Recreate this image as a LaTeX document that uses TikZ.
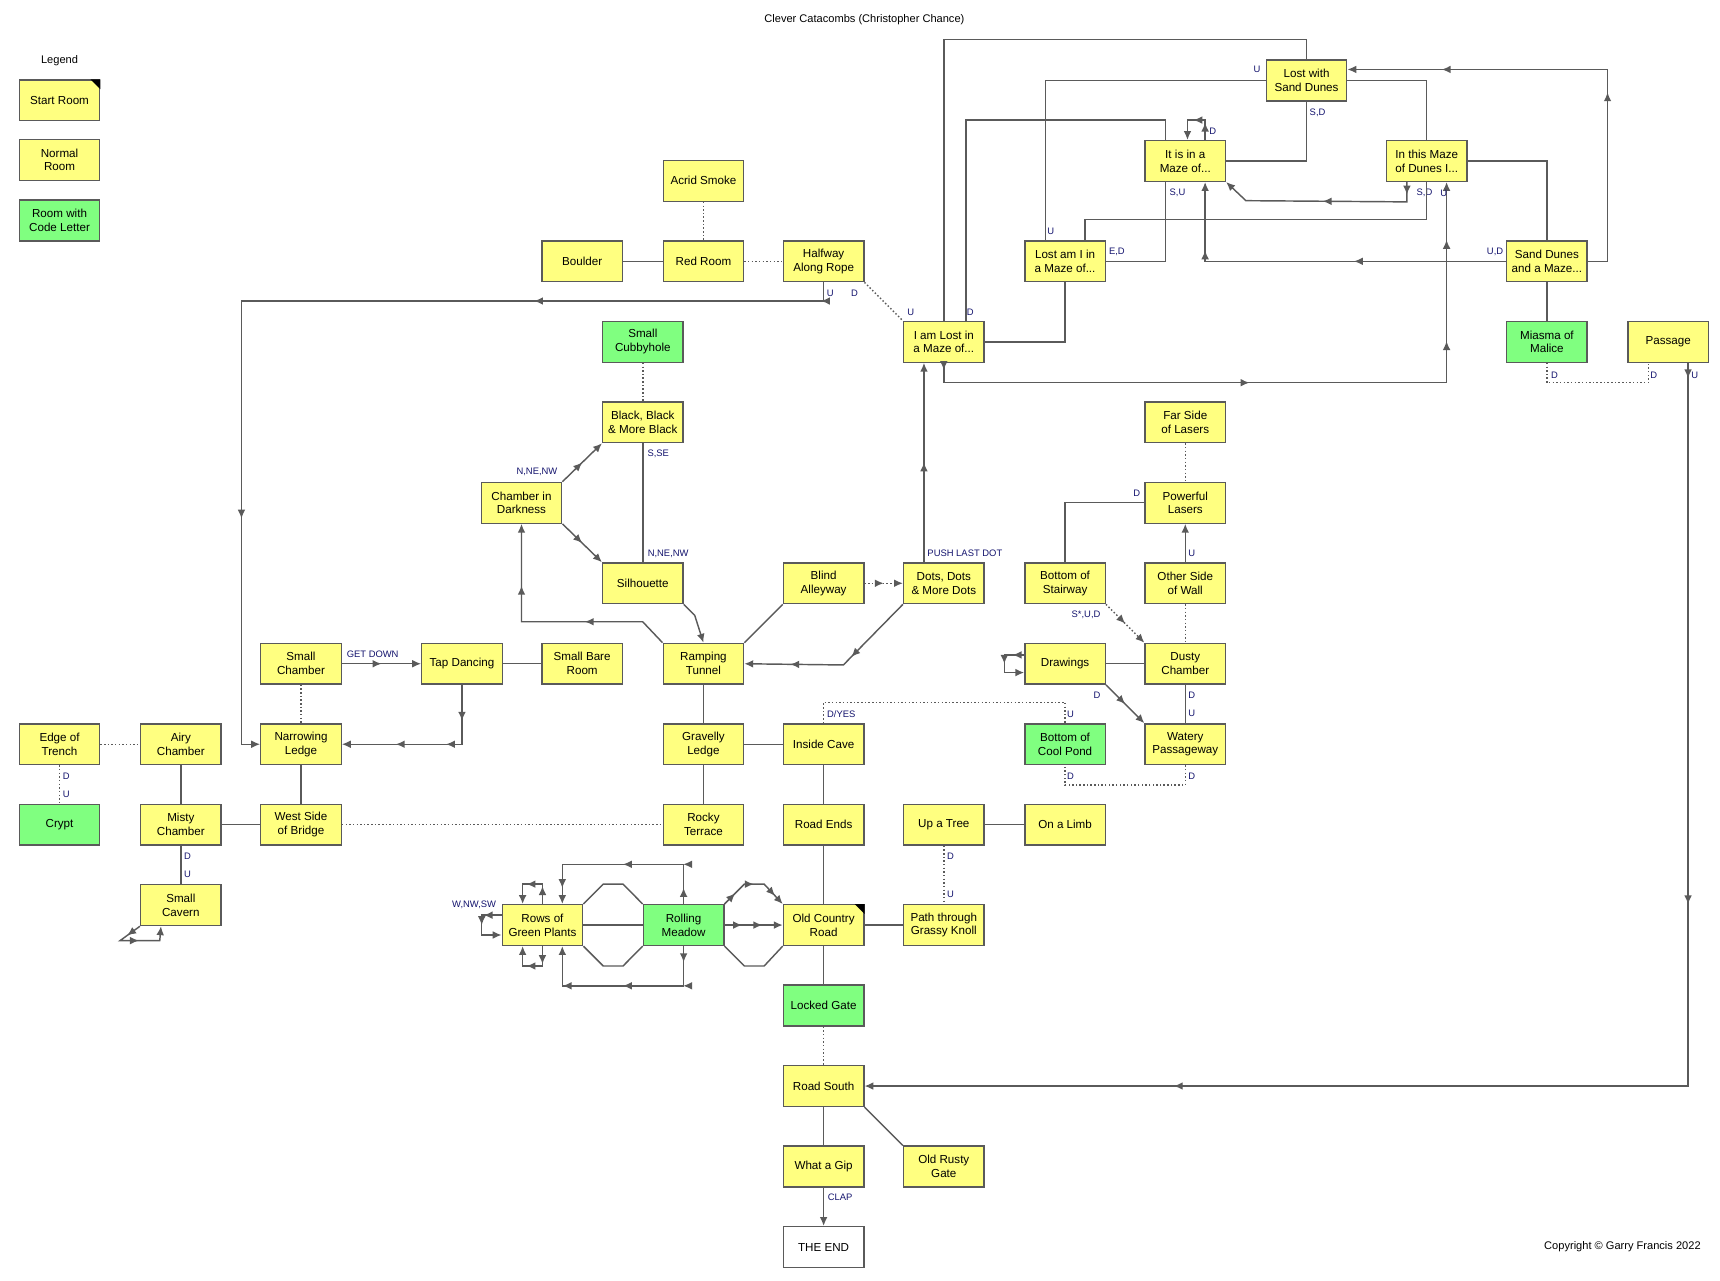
\documentclass[tikz,border=0pt]{standalone}
\usepackage{fontspec}
\setmainfont{Liberation Sans}
\usetikzlibrary{arrows.meta,calc,decorations.markings}
\definecolor{roomyellow}{RGB}{255,255,128}
\definecolor{roomgreen}{RGB}{128,255,128}
\definecolor{linegray}{RGB}{90,90,90}
\definecolor{labblue}{RGB}{20,20,110}
\tikzset{
  room/.style={draw=linegray,line width=1.2pt,fill=roomyellow,minimum width=2.555cm,minimum height=1.295cm,
    align=center,inner sep=1pt,font=\fontsize{10.5}{12.5}\selectfont},
  coderoom/.style={room,fill=roomgreen},
  link/.style={draw=linegray,line width=1.3pt},
  dlink/.style={link,dotted},
  tip/.style={-{Latex[length=8pt,width=7pt]}},
  arr at/.style={postaction={decorate,decoration={markings,mark=at position #1 with {\arrow{Latex[length=8pt,width=7pt]}}}}},
  lab/.style={font=\fontsize{8.5}{10}\selectfont,text=labblue,inner sep=1pt},
}
\newcommand{\startmark}[1]{\fill (#1.north east) -- ++(-9,0) -- ++(9,9) -- cycle;}
\begin{document}
\begin{tikzpicture}[x=0.035cm,y=-0.035cm]
\useasboundingbox (0,0) rectangle (1560,1161);
\node[font=\fontsize{10}{12}\selectfont] at (784,18) {Clever Catacombs (Christopher Chance)};
\node[font=\fontsize{10}{12}\selectfont,anchor=east] at (1546,1131) {Copyright \textcopyright\ Garry Francis 2022};
% legend
\node[font=\fontsize{10}{12}\selectfont] at (54,55) {Legend};
\node[room] (lgstart) at (54,91) {Start Room};
\startmark{lgstart}
\node[room] (lgnormal) at (54,145) {Normal\\Room};
\node[coderoom] (lgcode) at (54,200) {Room with\\Code Letter};
% rooms
\node[room] (acrid) at (638,164) {Acrid Smoke};
\node[room] (boulder) at (528,237) {Boulder};
\node[room] (red) at (638,237) {Red Room};
\node[room] (halfway) at (747,237) {Halfway\\Along Rope};
\node[coderoom] (cubby) at (583,310) {Small\\Cubbyhole};
\node[room] (lost1) at (856,310) {I am Lost in\\a Maze of...};
\node[room] (sand1) at (1185,73) {Lost with\\Sand Dunes};
\node[room] (itis) at (1075,146) {It is in a\\Maze of...};
\node[room] (inthis) at (1294,146) {In this Maze\\of Dunes I...};
\node[room] (lostam) at (966,237) {Lost am I in\\a Maze of...};
\node[room] (sandd) at (1403,237) {Sand Dunes\\and a Maze...};
\node[coderoom] (miasma) at (1403,310) {Miasma of\\Malice};
\node[room] (passage) at (1513,310) {Passage};
\node[room] (farside) at (1075,383) {Far Side\\of Lasers};
\node[room] (black) at (583,383) {Black, Black\\\& More Black};
\node[room] (chamber) at (473,456) {Chamber in\\Darkness};
\node[room] (powerful) at (1075,456) {Powerful\\Lasers};
\node[room] (silh) at (583,529) {Silhouette};
\node[room] (blind) at (747,529) {Blind\\Alleyway};
\node[room] (dots) at (856,529) {Dots, Dots\\\& More Dots};
\node[room] (stair) at (966,529) {Bottom of\\Stairway};
\node[room] (other) at (1075,529) {Other Side\\of Wall};
\node[room] (smallch) at (273,602) {Small\\Chamber};
\node[room] (tap) at (419,602) {Tap Dancing};
\node[room] (bare) at (528,602) {Small Bare\\Room};
\node[room] (ramp) at (638,602) {Ramping\\Tunnel};
\node[room] (drawings) at (966,602) {Drawings};
\node[room] (dusty) at (1075,602) {Dusty\\Chamber};
\node[room] (edge) at (54,675) {Edge of\\Trench};
\node[room] (airy) at (164,675) {Airy\\Chamber};
\node[room] (narrow) at (273,675) {Narrowing\\Ledge};
\node[room] (gravel) at (638,675) {Gravelly\\Ledge};
\node[room] (inside) at (747,675) {Inside Cave};
\node[coderoom] (pond) at (966,675) {Bottom of\\Cool Pond};
\node[room] (watery) at (1075,675) {Watery\\Passageway};
\node[coderoom] (crypt) at (54,748) {Crypt};
\node[room] (misty) at (164,748) {Misty\\Chamber};
\node[room] (west) at (273,748) {West Side\\of Bridge};
\node[room] (rocky) at (638,748) {Rocky\\Terrace};
\node[room] (roadends) at (747,748) {Road Ends};
\node[room] (tree) at (856,748) {Up a Tree};
\node[room] (limb) at (966,748) {On a Limb};
\node[room] (cavern) at (164,821) {Small\\Cavern};
\node[room] (rows) at (492,839) {Rows of\\Green Plants};
\node[coderoom] (meadow) at (620,839) {Rolling\\Meadow};
\node[room] (oldroad) at (747,839) {Old Country\\Road};
\startmark{oldroad}
\node[room] (path) at (856,839) {Path through\\Grassy Knoll};
\node[coderoom] (locked) at (747,912) {Locked Gate};
\node[room] (south) at (747,985) {Road South};
\node[room] (gip) at (747,1058) {What a Gip};
\node[room] (rusty) at (856,1058) {Old Rusty\\Gate};
\node[room,fill=white] (theend) at (747,1131) {THE END};

% upper left
\draw[dlink] (acrid) -- (red);
\draw[link] (boulder) -- (red);
\draw[dlink] (red) -- (halfway);
\draw[dlink] (halfway.south east) -- (lost1.north west);
\draw[link,arr at=0.02,arr at=0.29,arr at=0.77,tip] (halfway.south) |- (219,273) |- (narrow.west);
\node[lab] at (753,266) {U};
\node[lab] at (775,266) {D};
\draw[dlink] (cubby) -- (black);
\draw[link,arr at=0.5,tip] (chamber.north east) -- (black.south west);
\node[lab] at (487,428) {N,NE,NW};
\draw[link,arr at=0.5,tip] (chamber.south east) -- (silh.north west);
\draw[link] (black) -- (silh);
\node[lab] at (597,412) {S,SE};
\node[lab] at (606,502) {N,NE,NW};
\draw[link,tip] (silh.south east) -- ($(silh.south east)+(10,10)$) -- (ramp.north);
\draw[link,arr at=0.35,arr at=0.75,tip] (ramp.north west) -- ($(ramp.north west)+(-18,-19)$) -| (chamber.south);
\draw[link] (blind.south west) -- (ramp.north east);
\draw[dlink,arr at=0.5,tip] (blind) -- (dots);
\draw[link,arr at=0.4,arr at=0.75,tip] (dots.south west) -- ($(dots.south west)+(-54,55)$) -- (ramp.east);
\draw[link,arr at=0.5,tip] ($(dots.north)+(-18,0)$) -- ($(lost1.south)+(-18,0)$);
\node[lab,anchor=west] at (840,502) {PUSH LAST DOT};
% maze
\draw[link] (lost1.north) -- (856,36) -| (sand1.north);
\node[lab] at (826,283) {U};
\draw[link] ($(lost1.north)+(20,0)$) |- (960,109) -| ($(itis.north)+(-18,0)$);
\node[lab] at (880,283) {D};
\draw[link] (lost1.east) -| (lostam.south);
\draw[link,arr at=0.01,arr at=0.45,arr at=0.78,arr at=0.92,tip] (lost1.south) -- ++(0,18) -| ($(inthis.south)+(18,0)$);
\draw[link] (sand1.west) -| ($(lostam.north)+(-18,0)$);
\node[lab] at (1140,63) {U};
\node[lab] at (953,210) {U};
\draw[link] (sand1.south) |- (itis.east);
\node[lab] at (1195,102) {S,D};
\draw[link,arr at=0.3,arr at=0.55,tip] ($(itis.north)+(18,0)$) -- ++(0,-18) -| ($(itis.north)+(2,0)$);
\node[lab] at (1100,119) {D};
\draw[link,arr at=0.06,arr at=0.5,tip] ($(inthis.south)+(-18,0)$) -- ++(0,18) -- (1130,182) -- (itis.south east);
\node[lab] at (1292,175) {S,D};
\node[lab] at (1301,175) {\hspace{2em}U};
\draw[link] (lostam.east) -| ($(itis.south)+(-18,0)$);
\node[lab] at (1013,228) {E,D};
\node[lab] at (1068,175) {S,U};
\draw[link] ($(lostam.north)+(18,0)$) -- ++(0,-19) -| (inthis.south);
\draw[link,arr at=0.4,arr at=0.82,tip] (sandd.west) -| ($(itis.south)+(18,0)$);
\node[lab] at (1356,228) {U,D};
\draw[link] (inthis.east) -| (sandd.north);
\draw[link] (sand1.east) -| (inthis.north);
\draw[link,arr at=0.4,arr at=0.8,tip] (sandd.east) -- (1458,237) |- ($(sand1.east)+(0,-10)$);
\draw[link] (sandd) -- (miasma);
\draw[dlink] (miasma.south) -- ++(0,18) -| ($(passage.south)+(-18,0)$);
\node[lab] at (1410,340) {D};
\node[lab] at (1500,340) {D};
\draw[link,arr at=0.01,arr at=0.35,arr at=0.8,tip] ($(passage.south)+(18,0)$) |- (south.east);
\node[lab] at (1537,340) {U};
% lasers area
\draw[dlink] (farside) -- (powerful);
\draw[link,tip] (other.north) -- (powerful.south);
\node[lab] at (1081,502) {U};
\draw[link] (powerful.west) -| (stair.north);
\node[lab] at (1031,447) {D};
\draw[dlink] (other) -- (dusty);
\draw[dlink,arr at=0.5,tip] (stair.south east) -- (dusty.north west);
\node[lab] at (985,558) {S*,U,D};
\draw[link] (drawings) -- (dusty);
\draw[link,arr at=0.2,arr at=0.5,tip] ($(drawings.west)+(0,-8)$) -- ++(-18,0) -- ++(0,8) -- ++(0,8) -- ++(18,0);
\draw[link,arr at=0.5,tip] (drawings.south east) -- (watery.north west);
\node[lab] at (995,631) {D};
\draw[link] (dusty) -- (watery);
\node[lab] at (1081,631) {D};
\node[lab] at (1081,647) {U};
\draw[dlink] (watery.south) -- ++(0,18) -| (pond.south);
\node[lab] at (971,704) {D};
\node[lab] at (1081,704) {D};
\draw[dlink] (inside.north) -- ++(0,-19) -| (pond.north);
\node[lab] at (763,648) {D/YES};
\node[lab] at (971,648) {U};
% west side
\draw[link,arr at=0.5,tip] (smallch) -- (tap);
\node[lab] at (338,593) {GET DOWN};
\draw[dlink] (smallch) -- (narrow);
\draw[link,arr at=0.2,arr at=0.42,arr at=0.7,tip] (tap.south) |- (narrow.east);
\draw[link] (tap) -- (bare);
\draw[link] (ramp) -- (gravel);
\draw[link] (gravel) -- (inside);
\draw[link] (gravel) -- (rocky);
\draw[dlink] (edge) -- (airy);
\draw[dlink] (edge) -- (crypt);
\node[lab] at (60,704) {D};
\node[lab] at (60,720) {U};
\draw[link] (airy) -- (misty);
\draw[link] (narrow) -- (west);
\draw[link] (misty) -- (west);
\draw[dlink] (west) -- (rocky);
\draw[link] (misty) -- (cavern);
\node[lab] at (170,777) {D};
\node[lab] at (170,793) {U};
\draw[link,arr at=0.2,arr at=0.55,tip] (cavern.south west) -- ++(-18,13) -- ++(36,0) -- ($(cavern.south)+(-18,0)$);
% south part
\draw[link] (inside) -- (roadends);
\draw[link] (roadends) -- (oldroad);
\draw[link] (tree) -- (limb);
\draw[dlink] (tree) -- (path);
\node[lab] at (862,777) {D};
\node[lab] at (862,811) {U};
\draw[link] (oldroad) -- (path);
\draw[link] (oldroad) -- (locked);
\draw[dlink] (locked) -- (south);
\draw[link] (south) -- (gip);
\draw[link] (south.south east) -- (rusty.north west);
\draw[link,tip] (gip) -- (theend);
\node[lab] at (762,1086) {CLAP};
% meadow
\draw[link] (rows) -- (meadow);
\draw[link] (rows.north east) -- ++(18,-18) -- ++(18,0) -- (meadow.north west);
\draw[link] (rows.south east) -- ++(18,18) -- ++(18,0) -- (meadow.south west);
\draw[link,arr at=0.2,arr at=0.5,arr at=0.85,tip] (meadow.north east) -- ++(18,-18) -- ++(18,0) -- (oldroad.north west);
\draw[link] (meadow.south east) -- ++(18,18) -- ++(18,0) -- (oldroad.south west);
\draw[link,arr at=0.3,arr at=0.65,tip] (meadow) -- (oldroad);
\draw[link,arr at=0.08,arr at=0.2,arr at=0.5,arr at=0.92,tip] (meadow.north) -- ++(0,-36) -| ($(rows.north)+(18,0)$);
\draw[link,arr at=0.08,arr at=0.2,arr at=0.5,arr at=0.8,tip] (meadow.south) -- ++(0,36) -| ($(rows.south)+(18,0)$);
\draw[link,arr at=0.3,arr at=0.6,tip] (rows.north) -- ++(0,-18) -| ($(rows.north)+(-18,0)$);
\draw[link,arr at=0.3,arr at=0.6,tip] (rows.south) -- ++(0,18) -| ($(rows.south)+(-18,0)$);
\draw[link,arr at=0.3,arr at=0.5,tip] ($(rows.west)+(0,-9)$) -- ++(-18,0) -- ++(0,18) -- ++(18,0);
\node[lab] at (430,821) {W,NW,SW};
\end{tikzpicture}
\end{document}
